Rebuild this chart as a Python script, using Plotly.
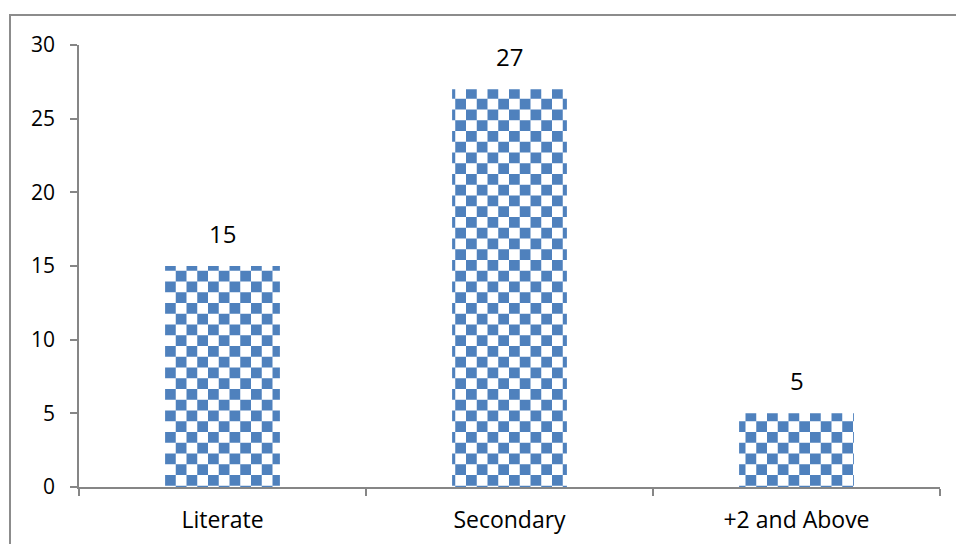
import plotly.graph_objects as go

# Education level counts
categories = ["Literate", "Secondary", "+2 and Above"]
values = [15, 27, 5]
y_ticks = [0, 5, 10, 15, 20, 25, 30]

BLUE = "#4F81BD"
AXIS = "#868686"
FONT = "Open Sans"

# plot-area geometry in pixels (used to place the outer frame)
W, H = 956, 544
L, R, T, B = 79, 16, 45, 57
pw, ph = W - L - R, H - T - B

fig = go.Figure()
fig.add_trace(go.Bar(
    x=categories,
    y=values,
    width=0.40,
    marker=dict(
        color=BLUE,
        line=dict(width=0),
        pattern=dict(shape="+", fgcolor=BLUE, bgcolor="white",
                     size=21.5, solidity=0.3, fillmode="replace"),
    ),
    hoverinfo="x+y",
))

for c, v in zip(categories, values):
    fig.add_annotation(x=c, y=v, text=str(v), showarrow=False,
                       yanchor="bottom", yshift=14,
                       font=dict(family=FONT, size=24, color="black"))

# outer chart frame
fig.add_shape(type="rect", xref="paper", yref="paper",
              x0=(10 - L) / pw, x1=(W + 20 - L) / pw,
              y0=-(H + 20 - T - ph) / ph, y1=(H - B - 15) / ph,
              line=dict(color="#8C8C8C", width=2), fillcolor="rgba(0,0,0,0)",
              layer="below")

fig.update_layout(
    width=W, height=H,
    margin=dict(l=L, r=R, t=T, b=B, pad=0, autoexpand=False),
    plot_bgcolor="white", paper_bgcolor="white",
    showlegend=False,
    font=dict(family=FONT, size=20, color="black"),
    xaxis=dict(
        type="category", range=[-0.5, 2.5], automargin=False,
        showline=True, linecolor=AXIS, linewidth=1.5,
        ticks="outside", tickson="boundaries", ticklen=7, tickcolor=AXIS, tickwidth=1.5,
        showgrid=False, zeroline=False,
        tickfont=dict(family=FONT, size=23, color="black"),
        ticklabelstandoff=12,
    ),
    yaxis=dict(
        range=[0, 30], tickvals=y_ticks, automargin=False,
        showline=True, linecolor=AXIS, linewidth=1.5,
        ticks="outside", ticklen=7, tickcolor=AXIS, tickwidth=1.5,
        showgrid=False, zeroline=False,
        tickfont=dict(family=FONT, size=21, color="black"),
        ticklabelstandoff=11,
    ),
)

# turn the "+" pattern tiles into a checkerboard
checker_js = """
var gd = document.getElementById('{plot_id}');
function checker(){
  gd.querySelectorAll('pattern').forEach(function(p){
    var w = parseFloat(p.getAttribute('width'));
    var h = w / 2;
    var path = p.querySelector('path');
    if(!path) return;
    var col = path.getAttribute('stroke') || path.style.stroke || '#4F81BD';
    path.setAttribute('d', 'M0,0h'+h+'v'+h+'h-'+h+'z M'+h+','+h+'h'+h+'v'+h+'h-'+h+'z');
    path.setAttribute('fill', col);
    path.setAttribute('stroke', 'none');
    path.style.fill = col;
    path.style.stroke = 'none';
    path.style.strokeWidth = '0';
  });
}
checker();
gd.on('plotly_afterplot', checker);
"""

fig.write_html("out.html", post_script=checker_js)
